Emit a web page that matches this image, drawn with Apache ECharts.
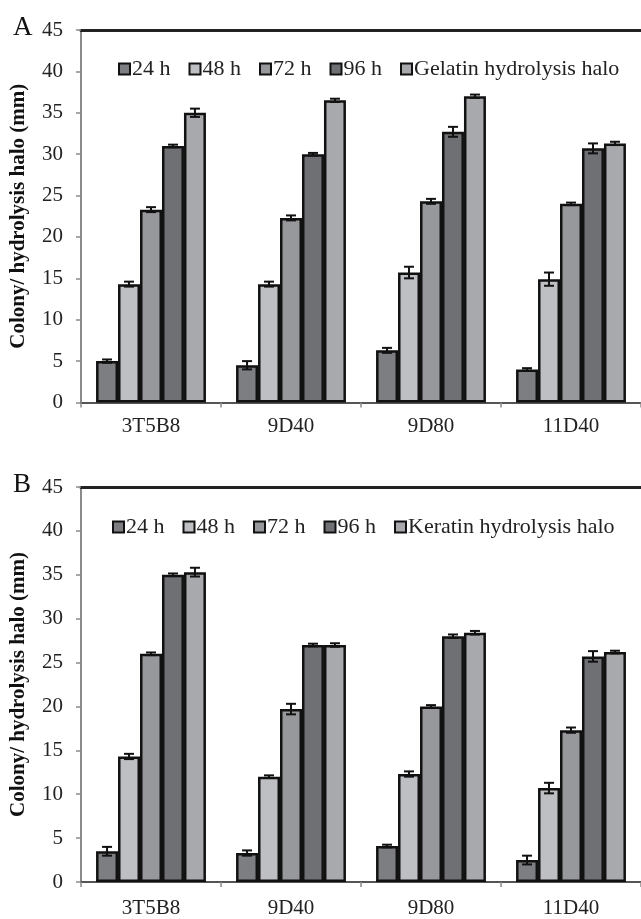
<!DOCTYPE html>
<html lang="en">
<head>
    <meta charset="UTF-8">
    <title>Colony / hydrolysis halo</title>
    <script src="https://cdn.jsdelivr.net/npm/echarts@6/dist/echarts.min.js"></script>
    <style>
        html, body { margin: 0; padding: 0; background: #fff; }
        #chart { width: 641px; height: 919px; }
    </style>
</head>
<body>
<div id="chart"></div>
<script type="text/javascript">
    var categories = ['3T5B8', '9D40', '9D80', '11D40'];
    var yTicks = [0, 5, 10, 15, 20, 25, 30, 35, 40, 45];
    var namesA = ['24 h', '48 h', '72 h', '96 h', 'Gelatin hydrolysis halo'];
    var namesB = ['24 h', '48 h', '72 h', '96 h', 'Keratin hydrolysis halo'];

    // panel A - gelatin
    var gel24 = [5.0, 4.5, 6.3, 4.0];
    var gel48 = [14.3, 14.3, 15.7, 14.9];
    var gel72 = [23.3, 22.3, 24.3, 24.0];
    var gel96 = [31.0, 30.0, 32.7, 30.7];
    var gelHalo = [35.0, 36.5, 37.0, 31.3];
    var gel24Err = [0.2, 0.5, 0.3, 0.15];
    var gel48Err = [0.3, 0.3, 0.7, 0.8];
    var gel72Err = [0.3, 0.3, 0.3, 0.15];
    var gel96Err = [0.15, 0.15, 0.6, 0.6];
    var gelHaloErr = [0.5, 0.2, 0.2, 0.2];

    // panel B - keratin
    var ker24 = [3.5, 3.3, 4.1, 2.5];
    var ker48 = [14.3, 12.0, 12.3, 10.7];
    var ker72 = [26.0, 19.7, 20.0, 17.3];
    var ker96 = [35.0, 27.0, 28.0, 25.7];
    var kerHalo = [35.3, 27.0, 28.4, 26.2];
    var ker24Err = [0.5, 0.3, 0.15, 0.5];
    var ker48Err = [0.3, 0.15, 0.3, 0.6];
    var ker72Err = [0.15, 0.6, 0.15, 0.3];
    var ker96Err = [0.15, 0.15, 0.2, 0.6];
    var kerHaloErr = [0.5, 0.2, 0.2, 0.15];

    var colors = ['#7d7e82', '#bebfc3', '#97989c', '#6f7074', '#a8a9ad'];
    var font = 'Liberation Serif, Times New Roman, serif';
    var barFrac = 0.157;

    function errorData(values, errs) {
        var out = [];
        for (var s = 0; s < values.length; s++) {
            for (var i = 0; i < values[s].length; i++) {
                out.push([i, values[s][i], errs[s][i], s]);
            }
        }
        return out;
    }

    function renderError(params, api) {
        var ci = api.value(0), v = api.value(1), e = api.value(2), s = api.value(3);
        var band = api.size([1, 0])[0];
        var bw = band * barFrac;
        var x = api.coord([ci, v])[0] + (s - 2) * bw;
        var yTop = api.coord([ci, v + e])[1];
        var yBot = api.coord([ci, v - e])[1];
        var cap = 5;
        var style = {stroke: '#111', lineWidth: 2};
        return {
            type: 'group',
            children: [
                {type: 'line', shape: {x1: x, y1: yTop, x2: x, y2: yBot}, style: style},
                {type: 'line', shape: {x1: x - cap, y1: yTop, x2: x + cap, y2: yTop}, style: style},
                {type: 'line', shape: {x1: x - cap, y1: yBot, x2: x + cap, y2: yBot}, style: style}
            ]
        };
    }

    function barSeries(name, data, idx, panel) {
        return {
            name: name,
            type: 'bar',
            xAxisIndex: panel * 2,
            yAxisIndex: panel,
            data: data,
            barWidth: (barFrac * 100) + '%',
            barGap: '0%',
            itemStyle: {color: colors[idx], borderColor: '#111', borderWidth: 2.5},
            emphasis: {disabled: true}
        };
    }

    function yAxis(grid) {
        return {
            type: 'value',
            gridIndex: grid,
            min: 0, max: 45, interval: 5,
            name: 'Colony/ hydrolysis halo (mm)',
            nameLocation: 'middle',
            nameGap: 52,
            nameTextStyle: {fontFamily: font, fontSize: 21, fontWeight: 'bold', color: '#111'},
            axisLine: {show: true, lineStyle: {color: '#8a8a8a', width: 2}},
            axisTick: {show: true, length: 5, lineStyle: {color: '#8a8a8a', width: 1.5}},
            axisLabel: {fontFamily: font, fontSize: 21, color: '#222', margin: 18},
            splitLine: {show: false}
        };
    }

    function xAxes(grid, margin) {
        return [{
            type: 'category',
            gridIndex: grid,
            data: categories,
            axisLine: {lineStyle: {color: '#555', width: 2}},
            axisTick: {show: true, length: 5, lineStyle: {color: '#8a8a8a', width: 1.5}},
            axisLabel: {fontFamily: font, fontSize: 21, color: '#222', margin: margin}
        }, {
            type: 'category',
            gridIndex: grid,
            position: 'top',
            data: categories,
            axisLine: {lineStyle: {color: '#222', width: 3}},
            axisTick: {show: false},
            axisLabel: {show: false}
        }];
    }

    function legend(names, top, left) {
        return {
            data: names,
            top: top,
            left: left,
            icon: 'rect',
            itemWidth: 11,
            itemHeight: 11,
            itemGap: 18,
            textStyle: {fontFamily: font, fontSize: 22, color: '#222', padding: [0, 0, 0, -3]},
            selectedMode: false
        };
    }

    var series = [];
    var gelVals = [gel24, gel48, gel72, gel96, gelHalo];
    var kerVals = [ker24, ker48, ker72, ker96, kerHalo];
    for (var i = 0; i < 5; i++) series.push(barSeries(namesA[i], gelVals[i], i, 0));
    for (var j = 0; j < 5; j++) series.push(barSeries(namesB[j], kerVals[j], j, 1));
    series.push({
        type: 'custom', xAxisIndex: 0, yAxisIndex: 0, z: 10,
        renderItem: renderError,
        encode: {x: 0, y: 1},
        data: errorData(gelVals, [gel24Err, gel48Err, gel72Err, gel96Err, gelHaloErr])
    });
    series.push({
        type: 'custom', xAxisIndex: 2, yAxisIndex: 1, z: 10,
        renderItem: renderError,
        encode: {x: 0, y: 1},
        data: errorData(kerVals, [ker24Err, ker48Err, ker72Err, ker96Err, kerHaloErr])
    });

    var myChart = echarts.init(document.getElementById('chart'));
    var option = {
        animation: false,
        title: [
            {text: 'A', left: 8, top: 9, textStyle: {fontFamily: font, fontSize: 27, fontWeight: 'normal', color: '#111'}},
            {text: 'B', left: 8, top: 466, textStyle: {fontFamily: font, fontSize: 27, fontWeight: 'normal', color: '#111'}}
        ],
        legend: [legend(namesA, 53, 113), legend(namesB, 511, 107)],
        grid: [
            {left: 81, top: 30, width: 561, height: 372.5},
            {left: 80, top: 487, width: 571, height: 396.5}
        ],
        xAxis: xAxes(0, 13).concat(xAxes(1, 16)),
        yAxis: [yAxis(0), yAxis(1)],
        series: series
    };
    myChart.setOption(option);
</script>
</body>
</html>
